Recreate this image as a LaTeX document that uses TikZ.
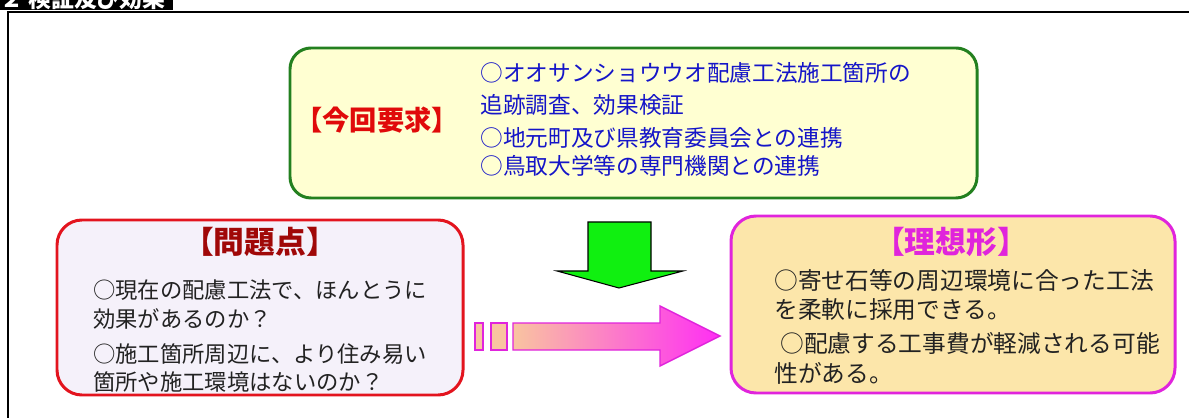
\documentclass[tikz,border=0pt]{standalone}
\usepackage{fontspec}
\setmainfont{Noto Sans CJK JP}
\definecolor{boxgreen}{HTML}{23801F}
\definecolor{boxyellow}{HTML}{FFFFD2}
\definecolor{textblue}{HTML}{1515C8}
\definecolor{titlered}{HTML}{E00A0A}
\definecolor{boxred}{HTML}{E3141E}
\definecolor{boxlilac}{HTML}{F5F1FA}
\definecolor{darkred}{HTML}{A00808}
\definecolor{boxpink}{HTML}{E024DC}
\definecolor{boxpeach}{HTML}{FCE6AA}
\definecolor{arrowpeach}{HTML}{F9C4A0}
\definecolor{arrowpink}{HTML}{FF2EF4}
\definecolor{arrowgreen}{HTML}{10F010}
\definecolor{inktext}{HTML}{222222}
\begin{document}
\begin{tikzpicture}[x=0.02cm, y=-0.02cm,
	every node/.style={inner sep=0pt},
	line/.style={anchor=west, font=\fontsize{#1}{15pt}\selectfont},
	title/.style={font=\bfseries\fontsize{#1}{20pt}\selectfont}]
	\useasboundingbox (0,0) rectangle (1189,418);
	% heading tab and frame
	\fill [black] (0,0) rectangle (173,10);
	\node [anchor=base west, text=white, font=\bfseries\fontsize{13pt}{15pt}\selectfont] (head) at (0,7.5) {２ 検証及び効果};
	\draw [line width=1.2pt] (8,418) -- (8,12) -- (1189,12);
	% request box
	\draw [boxgreen, line width=1.7pt, fill=boxyellow, rounded corners=0.42cm] (290,48) rectangle (977,198);
	\node [title=15.5pt, text=titlered] (req) at (377,120) {【今回要求】};
	\node [line=12.9pt, text=textblue] (req1) at (480,73) {○オオサンショウウオ配慮工法施工箇所の};
	\node [line=12.9pt, text=textblue] (req2) at (480,105) {追跡調査、効果検証};
	\node [line=12.9pt, text=textblue] (req3) at (480,138) {○地元町及び県教育委員会との連携};
	\node [line=12.9pt, text=textblue] (req4) at (480,166) {○鳥取大学等の専門機関との連携};
	% problem box
	\draw [boxred, line width=1.7pt, fill=boxlilac, rounded corners=0.5cm] (57,220) rectangle (463,395);
	\node [title=17.5pt, text=darkred] (prob) at (260,242) {【問題点】};
	\node [line=12.7pt, text=inktext] (prob1) at (93,290) {○現在の配慮工法で、ほんとうに};
	\node [line=12.7pt, text=inktext] (prob2) at (93,319) {効果があるのか？};
	\node [line=12.7pt, text=inktext] (prob3) at (93,354) {○施工箇所周辺に、より住み易い};
	\node [line=12.7pt, text=inktext] (prob4) at (93,382) {箇所や施工環境はないのか？};
	% ideal box
	\draw [boxpink, line width=1.7pt, fill=boxpeach, rounded corners=0.5cm] (731,216) rectangle (1175,393);
	\node [title=17.5pt, text=boxpink] (ideal) at (951,242) {【理想形】};
	\node [line=13.5pt, text=inktext] (ideal1) at (774,280) {○寄せ石等の周辺環境に合った工法};
	\node [line=13.5pt, text=inktext] (ideal2) at (774,310) {を柔軟に採用できる。};
	\node [line=13.5pt, text=inktext] (ideal3) at (780,343) {○配慮する工事費が軽減される可能};
	\node [line=13.5pt, text=inktext] (ideal4) at (774,373) {性がある。};
	% green arrow down
	\draw [fill=arrowgreen, line width=0.6pt] (588,222) -- (651,222) -- (651,271) -- (683,271) -- (619,288) -- (557,271) -- (588,271) -- cycle;
	% pink arrow right
	\draw [boxpink, fill=arrowpeach, line width=0.8pt] (475,323) rectangle (483,350);
	\draw [boxpink, fill=arrowpeach, line width=0.8pt] (491,323) rectangle (507,350);
	\draw [boxpink, line width=0.8pt, left color=arrowpeach, right color=arrowpink] (513,323) -- (660,323) -- (660,306) -- (720,336) -- (660,366) -- (660,350) -- (513,350) -- cycle;
\end{tikzpicture}
\end{document}
